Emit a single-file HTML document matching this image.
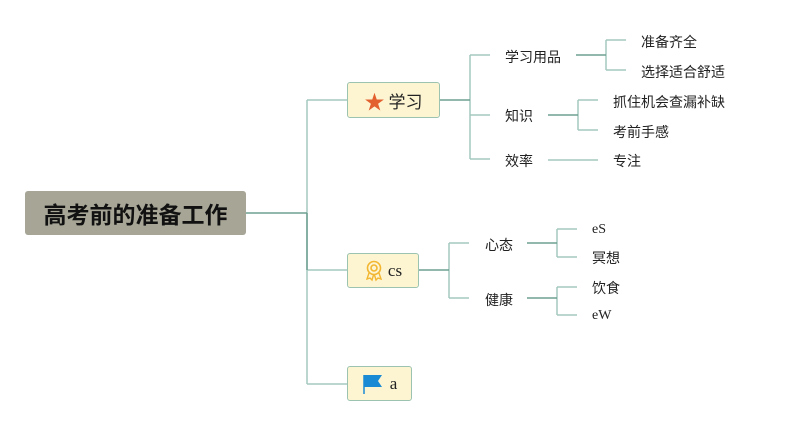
<!DOCTYPE html>
<html><head><meta charset="utf-8"><style>
body{margin:0;width:785px;height:427px;background:#fff;position:relative;overflow:hidden;font-family:"Liberation Sans","Noto Sans CJK SC",sans-serif}
.t{position:absolute;font-size:14px;color:#222;line-height:16px;transform:translateY(-7px);white-space:nowrap}
.s{font-family:"Liberation Serif","Noto Sans CJK SC",serif}
.b{position:absolute;background:#fdf5d2;border:1.5px solid #9cc3b0;border-radius:3px;box-sizing:border-box;display:flex;align-items:center;justify-content:center;font-size:17px;color:#222}
</style></head><body>
<svg width="785" height="427" style="position:absolute;left:0;top:0" fill="none" stroke-width="1.5">
<g stroke="#a3c9bd">
<path d="M307 100V384M307 100H347M307 270H347M307 384H347"/>
<path d="M470 55V159M470 55H490M470 115H490M470 159H490"/>
<path d="M606 40V70M606 40H626M606 70H626"/>
<path d="M578 100V130M578 100H598M578 130H598"/>
<path d="M548 160H598"/>
<path d="M449 243V298M449 243H469M449 298H469"/>
<path d="M557 229V257M557 229H577M557 257H577"/>
<path d="M557 287V315M557 287H577M557 315H577"/>
</g>
<g stroke="#6e9f90">
<path d="M246 213H307M307 213V270"/>
<path d="M440 100H470"/>
<path d="M576 55H606"/>
<path d="M548 115H578"/>
<path d="M419 270H449"/>
<path d="M527 243H557M527 298H557"/>
</g>
</svg>
<div style="position:absolute;left:25px;top:191px;width:221px;height:44px;background:#a6a596;border-radius:3px;display:flex;align-items:center;justify-content:center;font-size:23px;font-weight:bold;color:#111">高考前的准备工作</div>
<div class="b" style="left:347px;top:82px;width:93px;height:36px"><span style="color:#e3602f;font-size:20px;margin-right:4px">★</span>学习</div>
<div class="b s" style="left:347px;top:253px;width:72px;height:35px"><svg width="20" height="22" viewBox="0 0 20 22" style="margin-right:4px"><circle cx="10" cy="8" r="6.5" fill="none" stroke="#f2b630" stroke-width="1.6"/><circle cx="10" cy="8" r="3" fill="none" stroke="#f2b630" stroke-width="1.6"/><path d="M5 13L3 19L6 18L8 20L9.5 15M15 13L17 19L14 18L12 20L10.5 15" fill="none" stroke="#f2b630" stroke-width="1.4"/></svg>cs</div>
<div class="b s" style="left:347px;top:366px;width:65px;height:35px"><svg width="22" height="22" viewBox="0 0 22 22" style="margin-right:6px"><path d="M2 2V21" stroke="#1a8ad4" stroke-width="1.5"/><path d="M2 2H20L16 8L20 14H2Z" fill="#1a8ad4"/></svg>a</div>
<div class="t" style="left:505px;top:56px">学习用品</div>
<div class="t" style="left:505px;top:115px">知识</div>
<div class="t" style="left:505px;top:160px">效率</div>
<div class="t" style="left:641px;top:41px">准备齐全</div>
<div class="t" style="left:641px;top:71px">选择适合舒适</div>
<div class="t" style="left:613px;top:101px">抓住机会查漏补缺</div>
<div class="t" style="left:613px;top:131px">考前手感</div>
<div class="t" style="left:613px;top:160px">专注</div>
<div class="t" style="left:485px;top:244px">心态</div>
<div class="t" style="left:485px;top:299px">健康</div>
<div class="t s" style="left:592px;top:229px">eS</div>
<div class="t" style="left:592px;top:257px">冥想</div>
<div class="t" style="left:592px;top:287px">饮食</div>
<div class="t s" style="left:592px;top:315px">eW</div>
</body></html>
